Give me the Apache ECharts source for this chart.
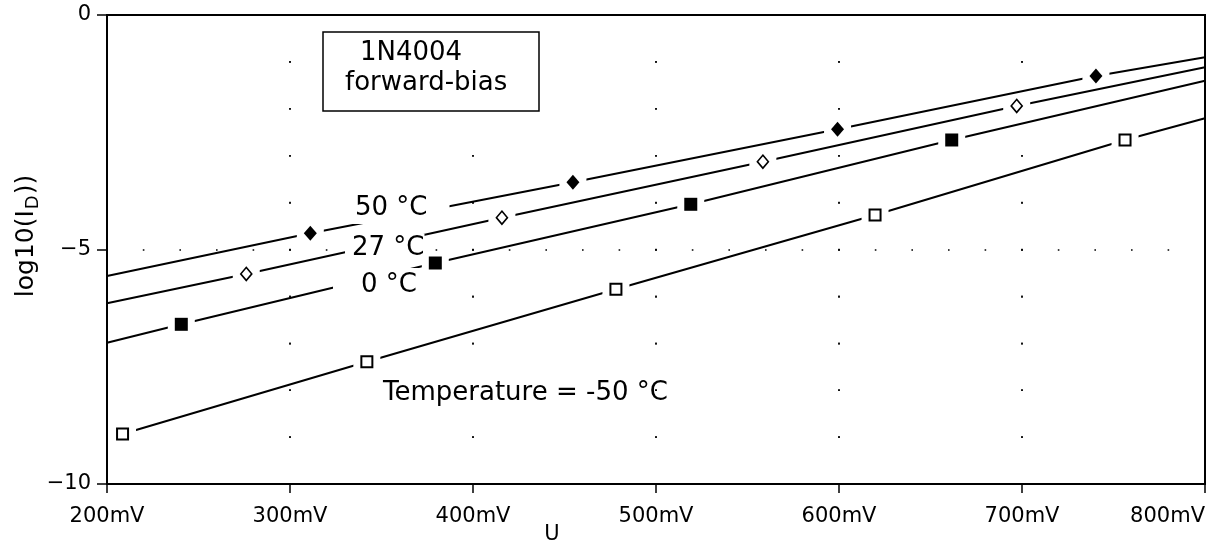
<!DOCTYPE html>
<html>
<head>
<meta charset="utf-8">
<script src="https://cdn.jsdelivr.net/npm/echarts@6/dist/echarts.min.js"></script>
<style>
html,body{margin:0;padding:0;background:#fff;}
#chart{width:1212px;height:542px;}
</style>
</head>
<body>
<div id="chart"></div>
<script>
// ---- data ----
const xTicks = [200, 300, 400, 500, 600, 700, 800];
const xTickLabels = ['200mV', '300mV', '400mV', '500mV', '600mV', '700mV', '800mV'];
const yTicks = [-10, -5, 0];
const yTickLabels = ['\u221210', '\u22125', '0'];

// curves: [voltage mV, log10(I_D)]
const curve50  = [[200, -5.565], [311.1, -4.655], [454.6, -3.567], [599.2, -2.437], [740.4, -1.300], [800, -0.902]];
const curve27  = [[200, -6.147], [276.1, -5.522], [415.8, -4.322], [558.4, -3.128], [697.1, -1.940], [800, -1.115]];
const curve0   = [[200, -6.987], [240.6, -6.595], [379.4, -5.288], [519.0, -4.036], [661.6, -2.665], [800, -1.401]];
const curveM50 = [[208.5, -8.934], [342.0, -7.392], [478.1, -5.849], [619.7, -4.264], [756.3, -2.665], [800, -2.203]];

// marker points on each curve
const marks50  = [[311.1, -4.655], [454.6, -3.567], [599.2, -2.437], [740.4, -1.300]];
const marks27  = [[276.1, -5.522], [415.8, -4.322], [558.4, -3.128], [697.1, -1.940]];
const marks0   = [[240.6, -6.595], [379.4, -5.288], [519.0, -4.036], [661.6, -2.665]];
const marksM50 = [[208.5, -8.934], [342.0, -7.392], [478.1, -5.849], [619.7, -4.264], [756.3, -2.665]];

const titleLines = ['1N4004', 'forward-bias'];
const curveLabels = ['50 \u00B0C', '27 \u00B0C', '0 \u00B0C', 'Temperature = -50 \u00B0C'];
const xName = 'U';

// ---- chart ----
const FONT = '"DejaVu Sans", sans-serif';
const chart = echarts.init(document.getElementById('chart'), null, {renderer: 'canvas'});

const GL = 107, GT = 15, GW = 1098, GH = 469;
const yUnit = GH / 10;          // px per decade
const x100 = GW / 6;            // px per 100 mV
const x20 = GW / 30;            // px per 20 mV

const lineSeries = (d) => ({
  type: 'line', data: d, showSymbol: false, silent: true,
  lineStyle: {color: '#000', width: 2}, z: 2
});
const haloSeries = (d) => ({
  type: 'scatter', data: d, symbol: 'rect', symbolSize: [27, 14], silent: true,
  itemStyle: {color: '#fff', opacity: 1}, z: 3
});

const option = {
  animation: false,
  backgroundColor: '#fff',
  grid: {left: GL, top: GT, width: GW, height: GH, show: true, borderColor: '#000', borderWidth: 2, backgroundColor: '#fff'},
  xAxis: {
    type: 'value', min: 200, max: 800, interval: 100,
    axisLine: {show: true, onZero: false, lineStyle: {color: '#000', width: 1.5}},
    axisTick: {show: true, inside: false, length: 9, lineStyle: {color: '#000', width: 1.5}},
    axisLabel: {
      margin: 22, color: '#000', fontFamily: FONT, fontSize: 21, alignMaxLabel: 'right',
      formatter: (v) => xTickLabels[xTicks.indexOf(Math.round(v))] || ''
    },
    splitLine: {show: true, lineStyle: {color: '#000', width: 1.6, type: [1.6, yUnit - 1.6], dashOffset: 0.8}}
  },
  yAxis: [{
    type: 'value', min: -10, max: 0, interval: 5,
    axisLine: {show: true, onZero: false, lineStyle: {color: '#000', width: 1.5}},
    axisTick: {show: true, inside: false, length: 10, lineStyle: {color: '#000', width: 1.5}},
    axisLabel: {
      margin: 16, color: '#000', fontFamily: FONT, fontSize: 21,
      formatter: (v) => yTickLabels[yTicks.indexOf(Math.round(v))] || ''
    },
    splitLine: {show: true, lineStyle: {color: '#000', width: 1.6, type: [1.6, x20 - 1.6], dashOffset: 0.8}}
  }, {
    type: 'value', min: -10, max: 0, interval: 1, position: 'left',
    axisLine: {show: false}, axisTick: {show: false}, axisLabel: {show: false},
    splitLine: {show: true, lineStyle: {color: '#000', width: 1.6, type: [1.6, x100 - 1.6], dashOffset: 0.8}}
  }],
  series: [
    lineSeries(curve50), lineSeries(curve27), lineSeries(curve0), lineSeries(curveM50),
    haloSeries(marks50), haloSeries(marks27), haloSeries(marks0), haloSeries(marksM50),
    {type: 'scatter', data: marks50, symbol: 'diamond', symbolSize: [13, 15], silent: true, itemStyle: {color: '#000', opacity: 1}, z: 4},
    {type: 'scatter', data: marks27, symbol: 'diamond', symbolSize: [11, 13], silent: true, itemStyle: {color: '#fff', borderColor: '#000', borderWidth: 1.6, opacity: 1}, z: 4},
    {type: 'scatter', data: marks0, symbol: 'rect', symbolSize: 13, silent: true, itemStyle: {color: '#000', opacity: 1}, z: 4},
    {type: 'scatter', data: marksM50, symbol: 'rect', symbolSize: 11, silent: true, itemStyle: {color: '#fff', borderColor: '#000', borderWidth: 2, opacity: 1}, z: 4}
  ],
  graphic: [
    {type: 'rect', z: 100, shape: {x: 323, y: 32, width: 216, height: 79}, style: {fill: '#fff', stroke: '#000', lineWidth: 1.5}},
    {type: 'text', z: 101, x: 360, y: 53, style: {text: titleLines[0], font: '26px ' + FONT, fill: '#000', align: 'left', verticalAlign: 'middle'}},
    {type: 'text', z: 101, x: 345, y: 83, style: {text: titleLines[1], font: '26px ' + FONT, fill: '#000', align: 'left', verticalAlign: 'middle'}},
    {type: 'text', z: 100, x: 347, y: 208, style: {text: curveLabels[0], font: '26px ' + FONT, fill: '#000', align: 'left', verticalAlign: 'middle', backgroundColor: '#fff', padding: [3, 22, 3, 8]}},
    {type: 'text', z: 100, x: 345, y: 248, style: {text: curveLabels[1], font: '26px ' + FONT, fill: '#000', align: 'left', verticalAlign: 'middle', backgroundColor: '#fff', padding: [0, 0, 2, 7]}},
    {type: 'text', z: 100, x: 333, y: 285, style: {text: curveLabels[2], font: '26px ' + FONT, fill: '#000', align: 'left', verticalAlign: 'middle', backgroundColor: '#fff', padding: [6, 6, 2, 28]}},
    {type: 'text', z: 100, x: 383, y: 393, style: {text: curveLabels[3], font: '26px ' + FONT, fill: '#000', align: 'left', verticalAlign: 'middle'}},
    {type: 'text', z: 100, x: 552, y: 535, style: {text: xName, font: '21px ' + FONT, fill: '#000', align: 'center', verticalAlign: 'middle'}},
    {type: 'text', z: 100, x: 26, y: 236, rotation: Math.PI / 2,
      style: {text: 'log10(I{sub|D}))', font: '25px ' + FONT, fill: '#000', align: 'center', verticalAlign: 'middle',
        rich: {sub: {font: '18px ' + FONT, fill: '#000', verticalAlign: 'bottom', lineHeight: 32, padding: [10, 1, 0, 1]}}}}
  ]
};
chart.setOption(option);
</script>
</body>
</html>
